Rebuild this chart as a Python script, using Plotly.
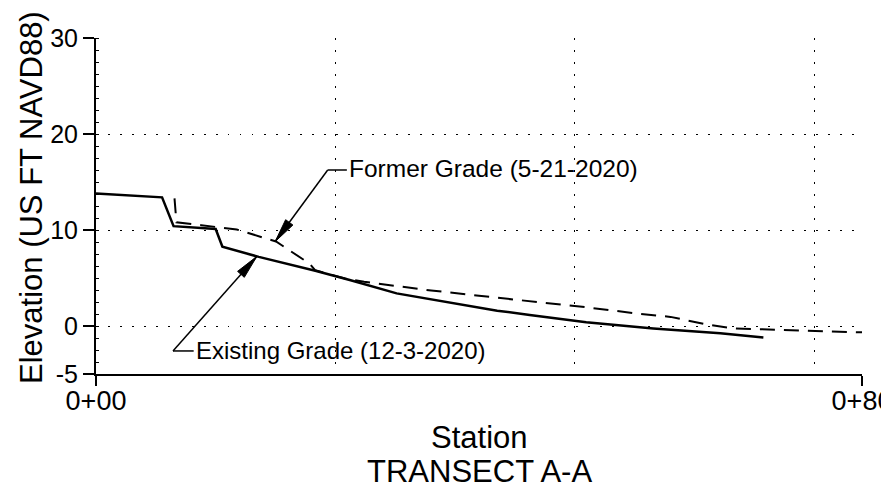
import plotly.graph_objects as go

# ---- data ----
existing_x = [0, 6.9, 8.1, 12.5, 13.2, 17.0, 22.9, 26.5, 31.4, 38.4, 41.9, 45.3, 51.2, 58.2, 65.2, 69.7]
existing_y = [13.8, 13.4, 10.4, 10.1, 8.25, 7.2, 5.75, 4.8, 3.4, 2.2, 1.6, 1.15, 0.4, -0.25, -0.75, -1.2]

former_x = [8.2, 8.4, 11.0, 14.7, 18.8, 22.3, 22.9, 26.0, 28.0, 35.0, 40.0, 45.3, 51.2, 56.5, 60.0, 63.8, 66.5, 80.0]
former_y = [13.3, 10.8, 10.5, 10.05, 8.8, 6.5, 5.8, 4.95, 4.6, 3.7, 3.15, 2.6, 1.95, 1.3, 0.95, 0.15, -0.25, -0.66]

x_tickvals = [0, 80]
x_ticktext = ["0+00", "0+80"]
y_tickvals = [-5, 0, 10, 20, 30]
y_ticktext = ["-5", "0", "10", "20", "30"]
x_gridvals = [25, 50, 75]

FONT = "Liberation Sans, Arial, sans-serif"
# page body adds an 8px offset; figure is sized so the plot lands where the reference has it
OFF = 8
W, H = 889 - OFF, 490 - OFF
ML, MR, MT, MB = 96 - OFF, 27, 38 - OFF, 116
XR = [0, 80]
YR = [-5, 30]
PW = W - ML - MR
PH = H - MT - MB
SX = PW / (XR[1] - XR[0])
SY = PH / (YR[1] - YR[0])


def px_to_paper(sx, sy):
    return (sx - OFF - ML) / PW, (MT + PH - (sy - OFF)) / PH


def arrow_head(tip, tail, length=24, half=4.5):
    dx = (tail[0] - tip[0]) * SX
    dy = (tail[1] - tip[1]) * SY
    n = (dx * dx + dy * dy) ** 0.5
    ux, uy = dx / n, dy / n
    bx, by = ux * length, uy * length
    px, py = -uy * half, ux * half
    pts = [(0, 0), (bx + px, by + py), (bx - px, by - py)]
    coords = [(tip[0] + a / SX, tip[1] + b / SY) for a, b in pts]
    return "M {} {} L {} {} L {} {} Z".format(*[v for c in coords for v in c])


fig = go.Figure()
fig.add_trace(go.Scatter(x=former_x, y=former_y, mode="lines",
                         line=dict(color="black", width=2, dash="15px,9px"),
                         showlegend=False, hoverinfo="skip"))
fig.add_trace(go.Scatter(x=existing_x, y=existing_y, mode="lines",
                         line=dict(color="black", width=2.5),
                         showlegend=False, hoverinfo="skip"))

shapes = []
annotations = []

# Existing grade leader
ex_tip = (16.8, 7.25)
ex_elbow = (8.04, -2.6)
ex_end = (10.2, -2.6)
shapes.append(dict(type="line", xref="x", yref="y", x0=ex_elbow[0], y0=ex_elbow[1], x1=ex_end[0], y1=ex_end[1],
                   line=dict(color="black", width=1.5)))
shapes.append(dict(type="line", xref="x", yref="y", x0=ex_elbow[0], y0=ex_elbow[1], x1=ex_tip[0], y1=ex_tip[1],
                   line=dict(color="black", width=1.5)))
shapes.append(dict(type="path", xref="x", yref="y", path=arrow_head(ex_tip, ex_elbow),
                   fillcolor="black", line=dict(color="black", width=1)))
annotations.append(dict(x=10.2, y=-2.6, xref="x", yref="y", text="Existing Grade (12-3-2020)",
                        showarrow=False, xanchor="left", yanchor="middle",
                        font=dict(family=FONT, size=24, color="black")))

# Former grade leader
fo_tip = (18.7, 8.78)
fo_elbow = (24.2, 16.25)
fo_end = (26.2, 16.25)
shapes.append(dict(type="line", xref="x", yref="y", x0=fo_elbow[0], y0=fo_elbow[1], x1=fo_end[0], y1=fo_end[1],
                   line=dict(color="black", width=1.5)))
shapes.append(dict(type="line", xref="x", yref="y", x0=fo_elbow[0], y0=fo_elbow[1], x1=fo_tip[0], y1=fo_tip[1],
                   line=dict(color="black", width=1.5)))
shapes.append(dict(type="path", xref="x", yref="y", path=arrow_head(fo_tip, fo_elbow),
                   fillcolor="black", line=dict(color="black", width=1)))
annotations.append(dict(x=26.2, y=16.4, xref="x", yref="y", text="Former Grade (5-21-2020)",
                        showarrow=False, xanchor="left", yanchor="middle",
                        font=dict(family=FONT, size=24.5, color="black")))

# Titles (positions in screen pixels)
tx, ty = px_to_paper(31, 198)
annotations.append(dict(x=tx, y=ty, xref="paper", yref="paper",
                        text="Elevation (US FT NAVD88)", textangle=-90, showarrow=False,
                        xanchor="center", yanchor="middle",
                        font=dict(family=FONT, size=31, color="black")))
sx_, sy_ = px_to_paper(479, 437)
annotations.append(dict(x=sx_, y=sy_, xref="paper", yref="paper",
                        text="Station", showarrow=False, xanchor="center", yanchor="middle",
                        font=dict(family=FONT, size=31, color="black")))
rx, ry = px_to_paper(479, 471)
annotations.append(dict(x=rx, y=ry, xref="paper", yref="paper",
                        text="TRANSECT A-A", showarrow=False, xanchor="center", yanchor="middle",
                        font=dict(family=FONT, size=31, color="black")))

GRID_DASH = "1.5px,10.5px"

fig.update_layout(
    width=W, height=H,
    margin=dict(l=ML, r=MR, t=MT, b=MB, pad=0, autoexpand=False),
    paper_bgcolor="white", plot_bgcolor="white",
    font=dict(family=FONT, color="black"),
    shapes=shapes, annotations=annotations,
    showlegend=False,
    xaxis=dict(range=XR, tickmode="array", tickvals=x_tickvals, ticktext=x_ticktext,
               ticks="outside", ticklen=10, tickwidth=1.5, tickcolor="black",
               showline=True, linecolor="black", linewidth=2, automargin=False,
               ticklabeloverflow="allow", ticklabelstandoff=-8,
               showgrid=True, gridcolor="black", gridwidth=1, griddash=GRID_DASH,
               zeroline=False, tickfont=dict(family=FONT, size=27, color="black"),
               minor=dict(tickmode="array", tickvals=x_gridvals, showgrid=True, gridcolor="black",
                          gridwidth=1, griddash=GRID_DASH, ticks="")),
    yaxis=dict(range=YR, tickmode="array", tickvals=y_tickvals, ticktext=y_ticktext,
               ticks="outside", ticklen=11, tickwidth=1.5, tickcolor="black",
               showline=True, linecolor="black", linewidth=2, automargin=False,
               ticklabeloverflow="allow",
               showgrid=True, gridcolor="black", gridwidth=1, griddash=GRID_DASH,
               zeroline=False, tickfont=dict(family=FONT, size=25, color="black"),
               minor=dict(tick0=-5, dtick=1.25, ticks="inside", ticklen=3, tickwidth=1,
                          tickcolor="black", showgrid=False)),
)

fig.write_html("out.html")
